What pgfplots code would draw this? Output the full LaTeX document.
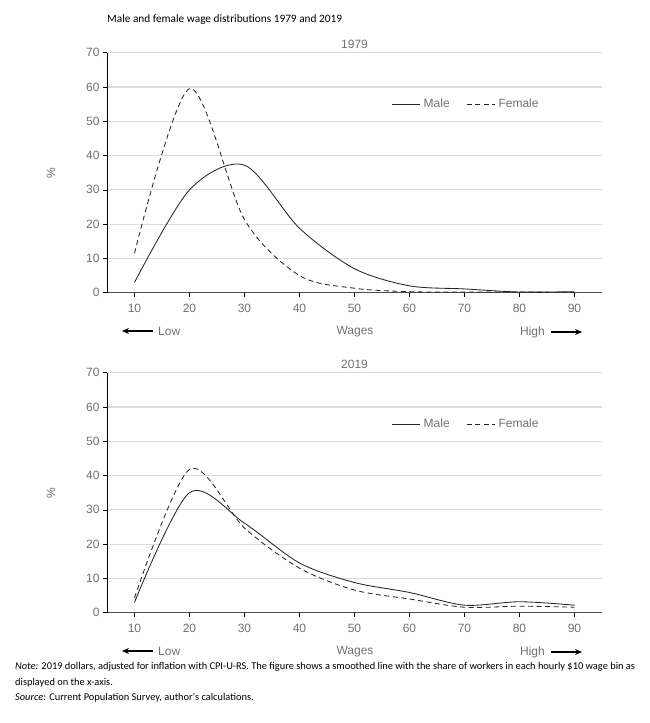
\documentclass[border=0pt]{standalone}
\usepackage{pgfplots}
\pgfplotsset{compat=1.18}
\usepackage{fontspec}
\setmainfont{Liberation Sans}
\newfontfamily\carlito{Carlito}
\usetikzlibrary{arrows.meta}
\definecolor{txtgray}{HTML}{707070}
\definecolor{gridgray}{HTML}{DCDCDC}
\definecolor{curve}{HTML}{262626}

\pgfplotsset{
 wagestyle/.style={
  scale only axis, width=495pt, height=240pt,
  xmin=5, xmax=95, ymin=0, ymax=70,
  xtick={10,20,...,90}, ytick={0,10,...,70},
  axis x line*=bottom, axis y line*=left,
  x axis line style={-, draw=black!70, line width=1.3pt},
  y axis line style={-, draw=black, line width=0.8pt},
  ymajorgrids, major grid style={draw=gridgray, line width=1.2pt},
  tick align=outside, major tick length=4pt,
  xtick style={draw=black, line width=0.6pt},
  ytick style={draw=black, line width=0.6pt},
  ticklabel style={font=\fontsize{12}{14}\selectfont, text=txtgray},
  xticklabel style={yshift=-4pt},
  /pgf/number format/assume math mode=true,
  legend style={at={(0.574,0.786)}, anchor=west, draw=none, fill=none,
    legend columns=2, font=\fontsize{12}{14}\selectfont, text=txtgray,
    nodes={inner xsep=3.5pt, inner ysep=1pt},
    /tikz/every even column/.append style={column sep=13pt}, inner sep=0pt},
  legend cell align=left,
  legend image code/.code={\draw[##1] (0pt,0pt) -- (28pt,0pt);},
 },
 male/.style={smooth, color=curve, line width=0.85pt},
 female/.style={smooth, color=curve, line width=0.85pt, dash pattern=on 5pt off 3.5pt},
}

\begin{document}
\begin{tikzpicture}
\path[use as bounding box] (0,0) rectangle (650pt,-723pt);

% ---------- 1979 ----------
\begin{axis}[wagestyle, at={(107pt,-292.7pt)}, anchor=south west]
\addplot[male] coordinates {(10,3) (20,30) (30,37.2) (40,18.8) (50,7) (60,2.0) (70,1.1) (80,0.2) (90,0.3)};
\addlegendentry{Male}
\addplot[female] coordinates {(10,11.5) (20,59.5) (30,21.3) (40,5.0) (50,1.3) (60,0.3) (70,0.2) (80,0.2) (90,0.1)};
\addlegendentry{Female}
\end{axis}

% ---------- 2019 ----------
\begin{axis}[wagestyle, at={(107pt,-612.7pt)}, anchor=south west]
\addplot[male] coordinates {(10,3) (20,35) (30,26.1) (40,14.5) (50,8.8) (60,5.9) (70,2.2) (80,3.2) (90,2.2)};
\addlegendentry{Male}
\addplot[female] coordinates {(10,4.3) (20,41.8) (30,24.7) (40,13) (50,6.6) (60,4.0) (70,1.6) (80,1.9) (90,1.6)};
\addlegendentry{Female}
\end{axis}

% titles and labels
\begin{scope}[every node/.style={text=txtgray, font=\fontsize{12}{14}\selectfont}]
\node at (354.5pt,-44pt) {1979};
\node at (354.5pt,-364pt) {2019};
\node[rotate=90] at (51pt,-172.7pt) {\%};
\node[rotate=90] at (51pt,-492.7pt) {\%};
\foreach \dy in {0,320} {
  \node[anchor=west, inner sep=0pt] at (158pt,-331pt-\dy pt) {Low};
  \node at (355pt,-332pt-\dy pt) {Wages};
  \node[anchor=east, inner sep=0pt] at (545pt,-332pt-\dy pt) {High};
  \draw[-{Stealth[length=7pt,width=6pt]}, line width=1.1pt, black] (153pt,-331pt-\dy pt) -- (122pt,-331pt-\dy pt);
  \draw[-{Stealth[length=7pt,width=6pt]}, line width=1.1pt, black] (551pt,-332pt-\dy pt) -- (582pt,-332pt-\dy pt);
}
\end{scope}

% figure title and notes
\node[anchor=west, inner sep=0pt, font=\carlito\fontsize{11.3}{13}\selectfont] at (107pt,-20pt) {Male and female wage distributions 1979 and 2019};
\begin{scope}[every node/.style={anchor=west, inner sep=0pt, font=\carlito\fontsize{10.4}{12}\selectfont}]
\node at (15pt,-667pt) {\textit{Note:} 2019 dollars, adjusted for inflation with CPI-U-RS. The figure shows a smoothed line with the share of workers in each hourly \$10 wage bin as};
\node at (15pt,-683pt) {displayed on the x-axis.};
\node at (15pt,-698pt) {\textit{Source:} Current Population Survey, author's calculations.};
\end{scope}
\end{tikzpicture}
\end{document}
